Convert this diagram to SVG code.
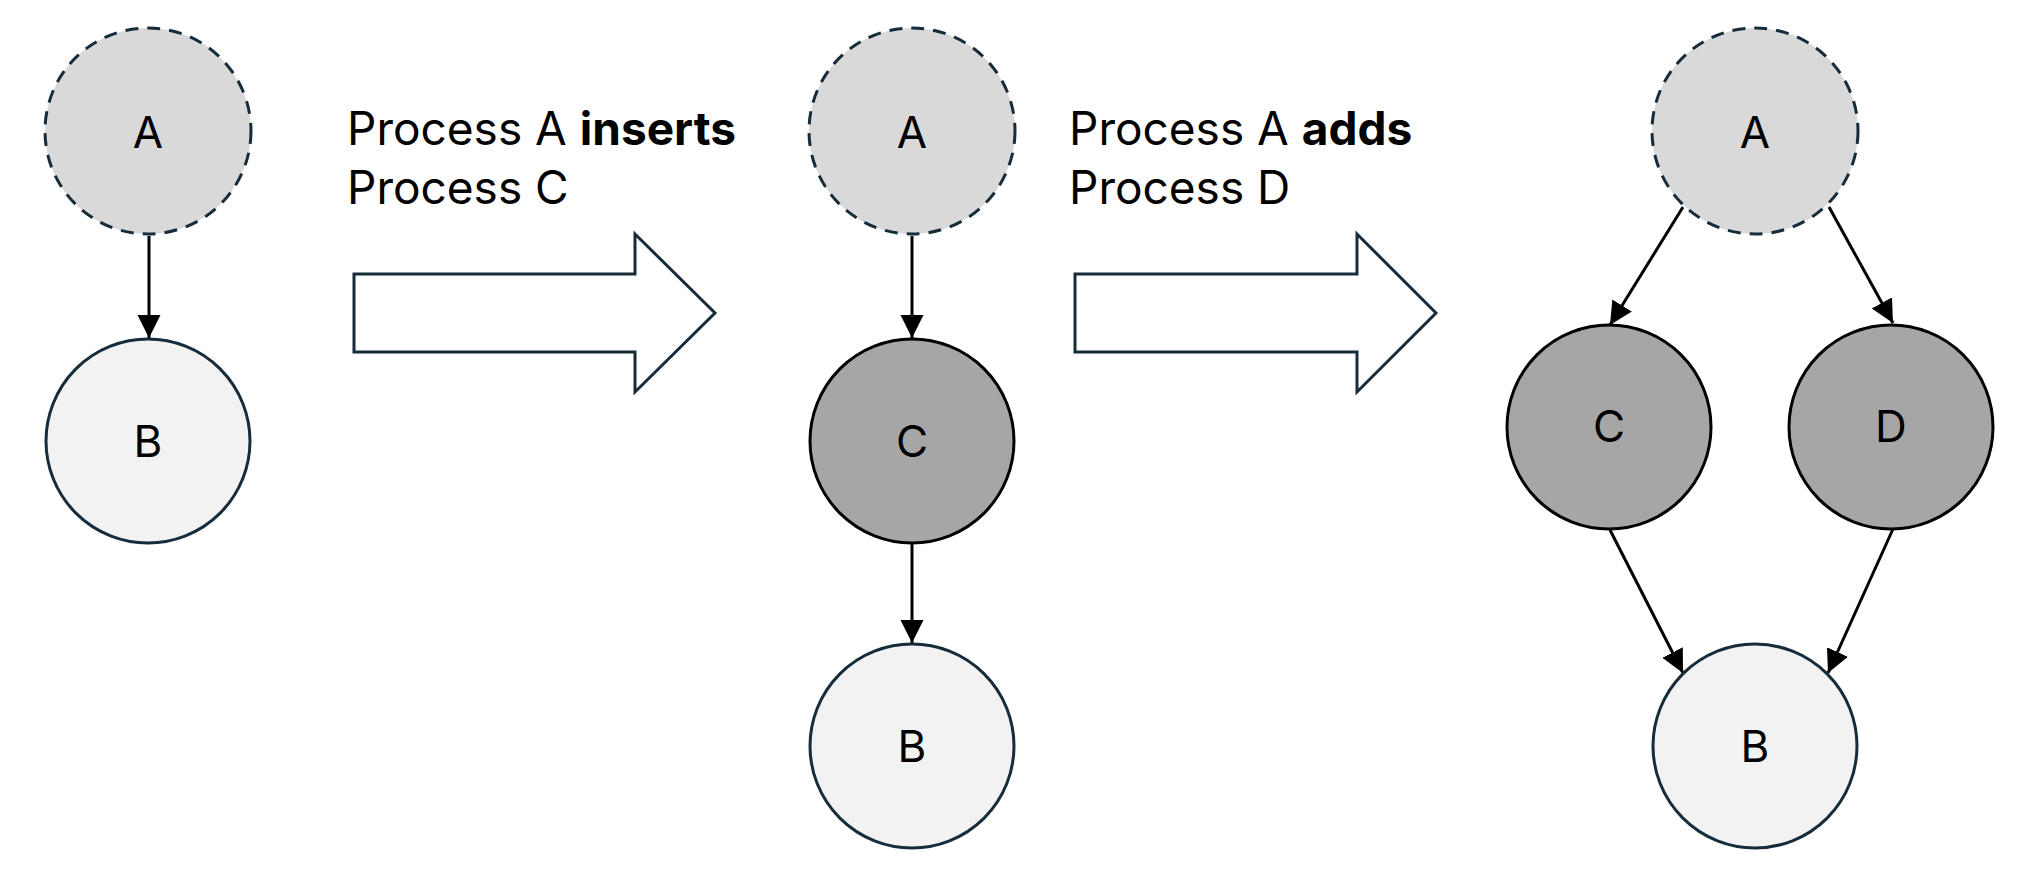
<svg xmlns="http://www.w3.org/2000/svg" width="2028" height="894" viewBox="0 0 2028 894">
<style>
.a{fill:#d9d9d9;stroke:#172c3a;stroke-width:3;stroke-dasharray:13 9}
.b{fill:#f2f2f2;stroke:#172c3a;stroke-width:3}
.c{fill:#a6a6a6;stroke:#000;stroke-width:3}
.lbl{font-family:Inter,"Liberation Sans",sans-serif;font-size:44px;fill:#000;text-anchor:middle}
.cap{font-family:Inter,"Liberation Sans",sans-serif;font-size:46px;fill:#000}
.edge{stroke:#000;stroke-width:3;fill:none;marker-end:url(#ah)}
.big{fill:#fff;stroke:#172c3a;stroke-width:3;stroke-linejoin:miter}
</style>
<defs>
<marker id="ah" markerUnits="userSpaceOnUse" markerWidth="24" markerHeight="24" refX="23" refY="11.5" orient="auto" viewBox="0 0 24 24">
<path d="M0,0 L23,11.5 L0,23 z" fill="#000"/>
</marker>
</defs>
<rect width="2028" height="894" fill="#fff"/>
<g id="connectors">
<line class="edge" x1="149" y1="236" x2="149" y2="338"/>
<line class="edge" x1="912" y1="236" x2="912" y2="338"/>
<line class="edge" x1="912" y1="544" x2="912" y2="643"/>
<line class="edge" x1="1683" y1="207" x2="1610" y2="325"/>
<line class="edge" x1="1829" y1="207" x2="1893" y2="323"/>
<line class="edge" x1="1610" y1="530" x2="1683" y2="673"/>
<line class="edge" x1="1893" y1="529" x2="1828" y2="673"/>
</g>
<g id="L-A"><circle class="a" cx="148" cy="131" r="103"/><text class="lbl" x="148" y="148">A</text></g>
<g id="L-B"><circle class="b" cx="148" cy="441" r="102"/><text class="lbl" x="148" y="457">B</text></g>
<g id="arrow1"><path class="big" d="M354,274 L635,274 L635,234 L715,313 L635,392 L635,352 L354,352 z"/></g>
<g id="caption1"><text class="cap" x="347" y="145">Process A <tspan font-weight="bold">inserts</tspan></text><text class="cap" x="347" y="204">Process C</text></g>
<g id="M-A"><circle class="a" cx="912" cy="131" r="103"/><text class="lbl" x="912" y="148">A</text></g>
<g id="M-C"><circle class="c" cx="912" cy="441" r="102"/><text class="lbl" x="912" y="457">C</text></g>
<g id="M-B"><circle class="b" cx="912" cy="746" r="102"/><text class="lbl" x="912" y="762">B</text></g>
<g id="arrow2"><path class="big" d="M1075,274 L1357,274 L1357,234 L1436,313 L1357,392 L1357,352 L1075,352 z"/></g>
<g id="caption2"><text class="cap" x="1069" y="145">Process A <tspan font-weight="bold">adds</tspan></text><text class="cap" x="1069" y="204">Process D</text></g>
<g id="R-A"><circle class="a" cx="1755" cy="131" r="103"/><text class="lbl" x="1755" y="148">A</text></g>
<g id="R-C"><circle class="c" cx="1609" cy="427" r="102"/><text class="lbl" x="1609" y="442">C</text></g>
<g id="R-D"><circle class="c" cx="1891" cy="427" r="102"/><text class="lbl" x="1891" y="442">D</text></g>
<g id="R-B"><circle class="b" cx="1755" cy="746" r="102"/><text class="lbl" x="1755" y="762">B</text></g>
</svg>
